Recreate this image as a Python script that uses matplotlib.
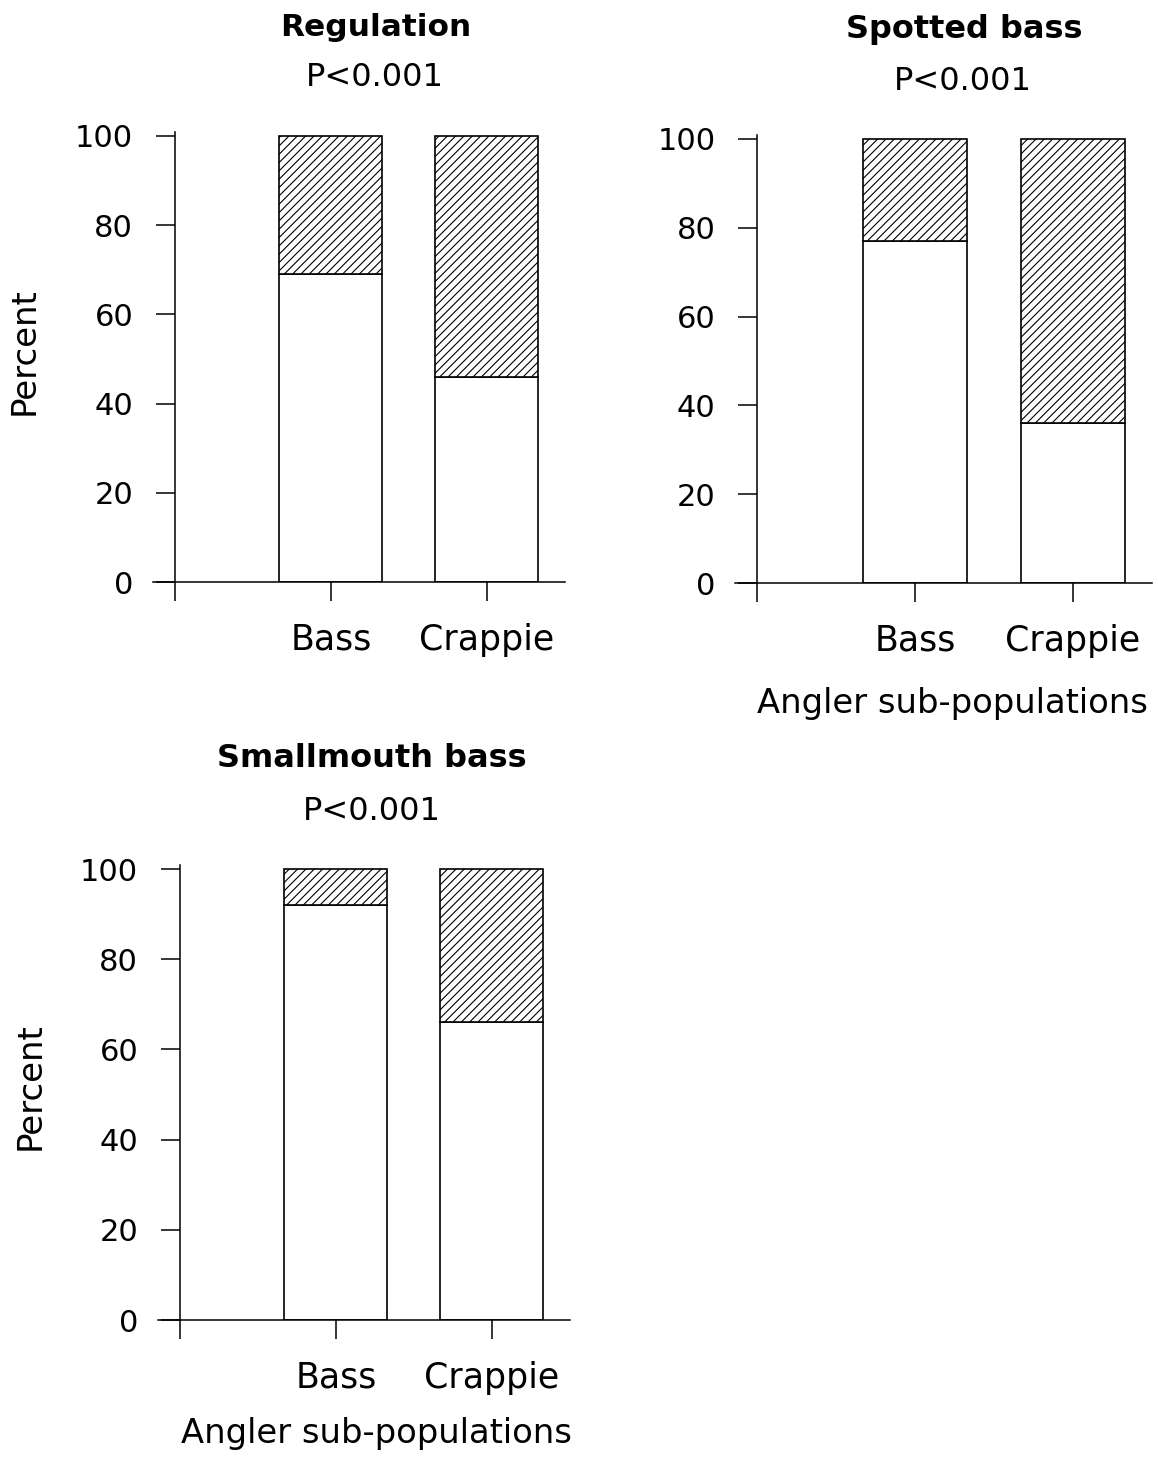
import matplotlib
matplotlib.use('Agg')
import matplotlib.pyplot as plt

# Share of anglers in each sub-population (white part = first response, hatched = remainder)
groups = ['Bass', 'Crappie']
titles = ['Regulation', 'Spotted bass', 'Smallmouth bass']
regulation_pct = [69, 46]
spotted_pct = [77, 36]
smallmouth_pct = [92, 66]
p_values = ['P<0.001', 'P<0.001', 'P<0.001']

W, H = 1158, 1458
plt.rcParams['font.family'] = 'DejaVu Sans'
plt.rcParams['hatch.linewidth'] = 0.8
plt.rcParams['hatch.color'] = '#333333'

fig = plt.figure(figsize=(W / 100, H / 100), dpi=100)


def px_rect(left, right, bottom, top):
    # pixel box -> figure fraction [left, bottom, width, height]
    return [left / W, 1 - bottom / H, (right - left) / W, (bottom - top) / H]


def px_text(x, y, s, **kw):
    fig.text(x / W, 1 - y / H, s, **kw)


def draw_panel(rect, values):
    ax = fig.add_axes(rect)
    x = [1, 2]
    ax.bar(x, values, width=0.66, color='white', edgecolor='black', linewidth=1.2)
    top = [100 - v for v in values]
    ax.bar(x, top, bottom=values, width=0.66, color='white', edgecolor='black',
           linewidth=1.2, hatch='////')
    ax.set_xlim(-0.14, 2.5)
    ax.set_ylim(0, 101)
    ax.spines['left'].set_position(('data', 0))
    ax.spines['top'].set_visible(False)
    ax.spines['right'].set_visible(False)
    for s in ('left', 'bottom'):
        ax.spines[s].set_linewidth(1.1)
    ax.set_xticks([0, 1, 2])
    ax.set_xticklabels([''] + groups)
    ax.set_yticks(range(0, 101, 20))
    ax.tick_params(axis='y', direction='out', length=14, width=1.1, pad=16, labelsize=22)
    ax.tick_params(axis='x', direction='out', length=13.5, width=1.1, pad=16, labelsize=25)
    return ax


ax1 = draw_panel(px_rect(153, 565, 582, 131.5), regulation_pct)
ax2 = draw_panel(px_rect(735, 1152, 583, 134.5), spotted_pct)
ax3 = draw_panel(px_rect(158, 570, 1320, 864.5), smallmouth_pct)

# panel headings
px_text(376, 36, titles[0], ha='center', va='baseline', fontsize=22.5, fontweight='bold')
px_text(375, 86, p_values[0], ha='center', va='baseline', fontsize=23)
px_text(964, 38, titles[1], ha='center', va='baseline', fontsize=23, fontweight='bold')
px_text(963, 90, p_values[1], ha='center', va='baseline', fontsize=23)
px_text(372, 767, titles[2], ha='center', va='baseline', fontsize=23, fontweight='bold')
px_text(372, 820, p_values[2], ha='center', va='baseline', fontsize=23)

# axis titles
px_text(24, 351, 'Percent', ha='center', va='center', rotation=90, fontsize=24.5)
px_text(30, 1086, 'Percent', ha='center', va='center', rotation=90, fontsize=24.5)
px_text(952, 713, 'Angler sub-populations', ha='center', va='baseline', fontsize=24.3)
px_text(376, 1443, 'Angler sub-populations', ha='center', va='baseline', fontsize=24.3)

fig.savefig('out.png', dpi=100, facecolor='white')
